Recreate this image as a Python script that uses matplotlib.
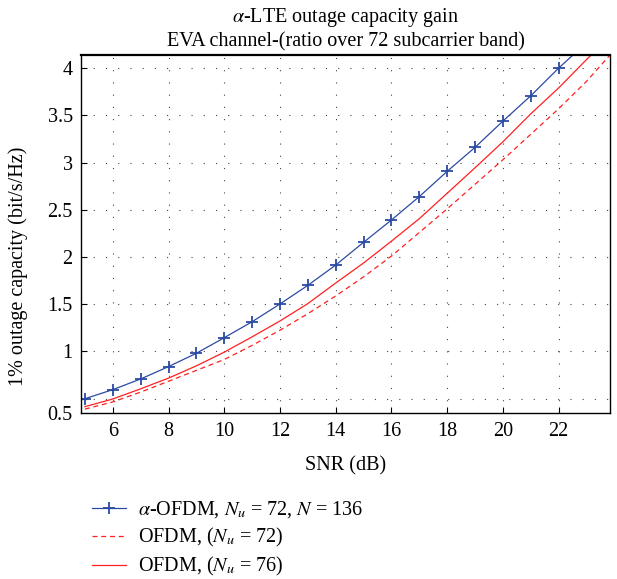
import matplotlib
matplotlib.use('Agg')
import matplotlib.pyplot as plt
from matplotlib.transforms import ScaledTranslation

plt.rcParams['font.family'] = ['Liberation Serif', 'DejaVu Serif']
plt.rcParams['mathtext.fontset'] = 'stix'
plt.rcParams['font.size'] = 14.5

# ── data ──────────────────────────────────────────────────────────────────────
snr = list(range(5, 25))
alpha_ofdm = [0.50, 0.596, 0.709, 0.84, 0.981, 1.146, 1.315, 1.503, 1.70, 1.915,
              2.156, 2.392, 2.64, 2.907, 3.161, 3.439, 3.707, 4.0, 4.27, 4.54]
ofdm_72 = [0.39, 0.466, 0.57, 0.685, 0.80, 0.915, 1.065, 1.225, 1.40, 1.588,
           1.79, 2.01, 2.26, 2.51, 2.77, 3.03, 3.30, 3.57, 3.86, 4.19]
ofdm_76 = [0.416, 0.497, 0.605, 0.718, 0.848, 0.993, 1.155, 1.323, 1.507, 1.725,
           1.937, 2.168, 2.406, 2.675, 2.945, 3.22, 3.516, 3.79, 4.09, 4.38]

xticks = [6, 8, 10, 12, 14, 16, 18, 20, 22]
yticks = [0.5, 1, 1.5, 2, 2.5, 3, 3.5, 4]
labels = [r'$\alpha$-OFDM, $N_u$ = 72, $N$ = 136',
          r'OFDM, ($N_u$ = 72)',
          r'OFDM, ($N_u$ = 76)']

blue = '#2b4aa3'
red = '#ff2020'
fs = 14.5

fig = plt.figure(figsize=(6.17, 5.79), dpi=100)
ax = fig.add_axes([81/617, 1 - 412.7/579, (610 - 81)/617, (412.7 - 55)/579])

h1, = ax.plot(snr, alpha_ofdm, color=blue, lw=0.9, marker='+', ms=8, mew=1.3)
h2, = ax.plot(snr, ofdm_72, color=red, lw=0.9, ls=(0, (4, 3)))
h3, = ax.plot(snr, ofdm_76, color=red, lw=0.9)

ax.set_xlim(4.86, 23.84)
ax.set_ylim(0.352, 4.138)
ax.set_xticks(xticks)
ax.set_yticks(yticks)
ax.set_yticklabels(['0.5', '1', '1.5', '2', '2.5', '3', '3.5', '4'])
ax.tick_params(direction='in', length=4, width=0.8, labelsize=fs, top=False, right=False)
ax.tick_params(axis='x', pad=7)
ax.tick_params(axis='y', pad=6)
ax.grid(True, color='#444444', lw=0.8, ls=(0, (1, 10)))
for sp in ax.spines.values():
    sp.set_linewidth(1.0)
ax.spines['top'].set_linewidth(1.6)

# the lowest tick label sits at the bottom edge in the reference
lab = ax.get_yticklabels()[0]
lab.set_transform(lab.get_transform() + ScaledTranslation(0, -14/100, fig.dpi_scale_trans))

ax.set_title(r'$\alpha$-LTE outage capacity gain' + '\n' + 'EVA channel-(ratio over 72 subcarrier band)',
             fontsize=fs, linespacing=1.25, pad=6)
ax.set_xlabel('SNR (dB)', fontsize=fs, labelpad=11)
ax.set_ylabel('1% outage capacity (bit/s/Hz)', fontsize=fs)
ax.yaxis.set_label_coords(-0.1, 0.41)

fig.legend([h1, h2, h3], labels, loc='upper left', bbox_to_anchor=(74/617, 1 - 481/579),
           frameon=False, fontsize=fs, handlelength=1.7, handletextpad=0.6, labelspacing=0.3)

fig.savefig('out.png', dpi=100)
